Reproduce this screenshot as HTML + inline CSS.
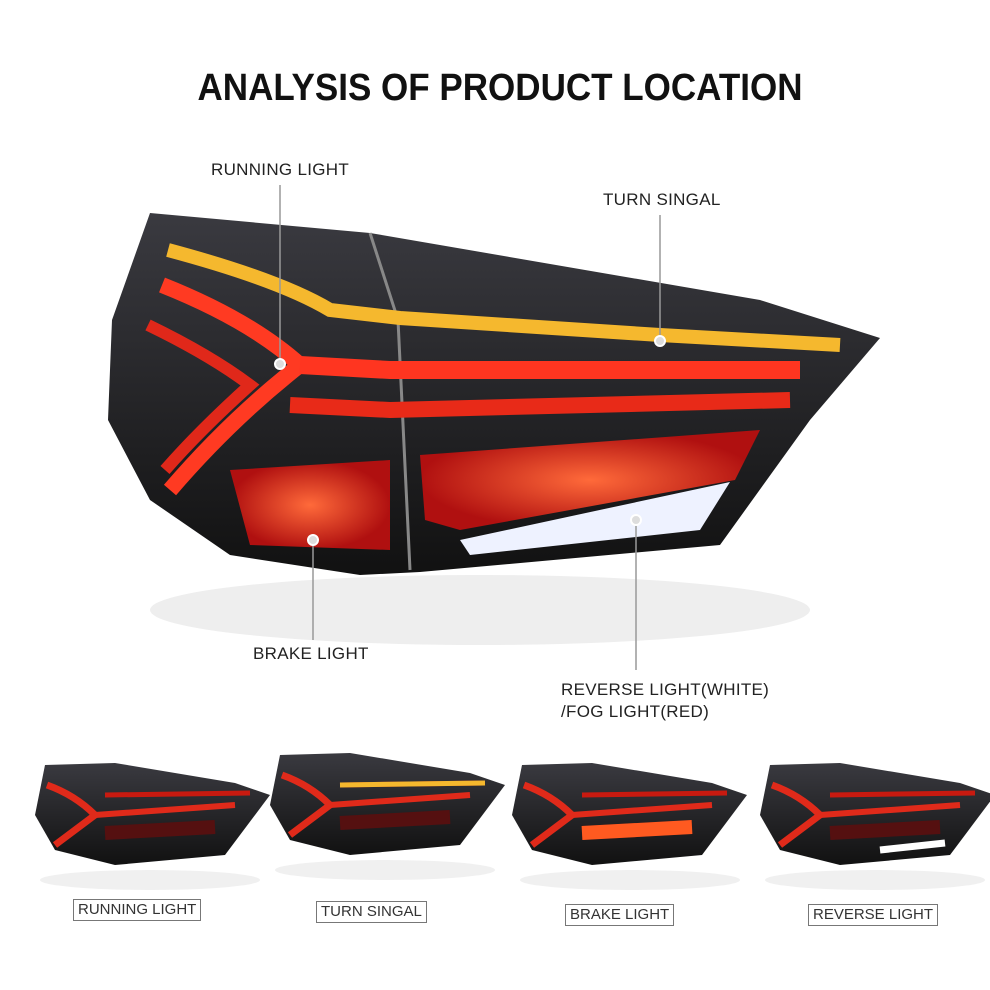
<!DOCTYPE html>
<html><head><meta charset="utf-8"><style>
html,body{margin:0;padding:0;background:#fff;}
body{width:990px;height:990px;overflow:hidden;position:relative;font-family:"Liberation Sans",sans-serif;}
.t{position:absolute;color:#222;font-size:17px;letter-spacing:0.3px;}
.b{position:absolute;border:1px solid #777;font-size:15px;color:#333;padding:1px 4px;line-height:18px;}
</style></head><body>
<svg width="990" height="990" style="position:absolute;left:0;top:0">
<defs>
<linearGradient id="body" x1="0" y1="0" x2="0" y2="1"><stop offset="0" stop-color="#3a3a40"/><stop offset="1" stop-color="#111"/></linearGradient>
<radialGradient id="glow" cx="0.5" cy="0.5" r="0.5"><stop offset="0" stop-color="#ff6a3a"/><stop offset="1" stop-color="#b01010"/></radialGradient>
<linearGradient id="refl" x1="0" y1="0" x2="0" y2="1"><stop offset="0" stop-color="#ddd"/><stop offset="1" stop-color="#fff"/></linearGradient>
<g id="mini">
<path d="M10 10 L80 8 L200 28 L235 40 L190 100 L80 110 L20 95 L0 60 Z" fill="url(#body)"/>
<path d="M12 30 Q40 40 60 60 Q40 75 20 90" stroke="#e02a1a" stroke-width="7" fill="none"/>
<path d="M60 60 L200 50" stroke="#e02a1a" stroke-width="6"/>
<path d="M70 40 L215 38" stroke="#c81a10" stroke-width="5"/>
<path d="M70 78 L180 72" stroke="#551010" stroke-width="14"/>
</g>
</defs>
<text x="500" y="100" text-anchor="middle" font-family="Liberation Sans" font-weight="bold" font-size="38" fill="#111" textLength="605" lengthAdjust="spacingAndGlyphs">ANALYSIS OF PRODUCT LOCATION</text>
<!-- reflection -->
<ellipse cx="480" cy="610" rx="330" ry="35" fill="#eee"/>
<!-- main lamp -->
<path d="M150 213 L370 233 L760 300 L880 338 L810 420 L720 545 L420 572 L360 575 L230 555 L150 500 L108 420 L112 320 Z" fill="url(#body)"/>
<path d="M370 233 L398 320 L410 570" stroke="#888" stroke-width="3" fill="none"/>
<!-- yellow -->
<path d="M168 250 Q280 280 330 310 L400 318 L660 335 L840 345" stroke="#f5b82e" stroke-width="14" fill="none"/>
<!-- red Y arcs -->
<path d="M162 285 Q250 320 300 365 Q230 420 170 490" stroke="#ff3a22" stroke-width="16" fill="none"/>
<path d="M148 325 Q210 355 250 385 Q200 430 165 470" stroke="#e0281a" stroke-width="12" fill="none"/>
<path d="M300 365 L390 370 L800 370" stroke="#ff3520" stroke-width="18" fill="none"/>
<path d="M290 405 L390 410 L790 400" stroke="#e82a18" stroke-width="16" fill="none"/>
<!-- brake LED areas -->
<path d="M230 470 L390 460 L390 550 L250 545 Z" fill="url(#glow)"/>
<path d="M420 455 L760 430 L735 480 L460 530 L425 520 Z" fill="url(#glow)"/>
<path d="M460 540 L730 482 L700 530 L470 555 Z" fill="#eef2ff"/>
<!-- leader lines -->
<g stroke="#999" stroke-width="1.5"><line x1="280" y1="185" x2="280" y2="362"/><line x1="660" y1="215" x2="660" y2="340"/><line x1="313" y1="540" x2="313" y2="640"/><line x1="636" y1="520" x2="636" y2="670"/></g>
<g fill="#ddd" stroke="#fff" stroke-width="2"><circle cx="280" cy="364" r="5"/><circle cx="660" cy="341" r="5"/><circle cx="313" cy="540" r="5"/><circle cx="636" cy="520" r="5"/></g>
<!-- minis -->
<g transform="translate(35,755)"><use href="#mini"/></g>
<g transform="translate(270,745)"><use href="#mini"/><path d="M70 40 L215 38" stroke="#f5b82e" stroke-width="5"/></g>
<g transform="translate(512,755)"><use href="#mini"/><path d="M70 78 L180 72" stroke="#ff5a20" stroke-width="14"/></g>
<g transform="translate(760,755)"><use href="#mini"/><path d="M120 95 L185 88" stroke="#fff" stroke-width="7"/></g>
<g fill="#f0f0f0"><ellipse cx="150" cy="880" rx="110" ry="10"/><ellipse cx="385" cy="870" rx="110" ry="10"/><ellipse cx="630" cy="880" rx="110" ry="10"/><ellipse cx="875" cy="880" rx="110" ry="10"/></g>
</svg>
<div class="t" style="left:211px;top:160px">RUNNING LIGHT</div>
<div class="t" style="left:603px;top:190px">TURN SINGAL</div>
<div class="t" style="left:253px;top:644px">BRAKE LIGHT</div>
<div class="t" style="left:561px;top:679px;line-height:22px">REVERSE LIGHT(WHITE)<br>/FOG LIGHT(RED)</div>
<div class="b" style="left:73px;top:899px">RUNNING LIGHT</div>
<div class="b" style="left:316px;top:901px">TURN SINGAL</div>
<div class="b" style="left:565px;top:904px">BRAKE LIGHT</div>
<div class="b" style="left:808px;top:904px">REVERSE LIGHT</div>
</body></html>
